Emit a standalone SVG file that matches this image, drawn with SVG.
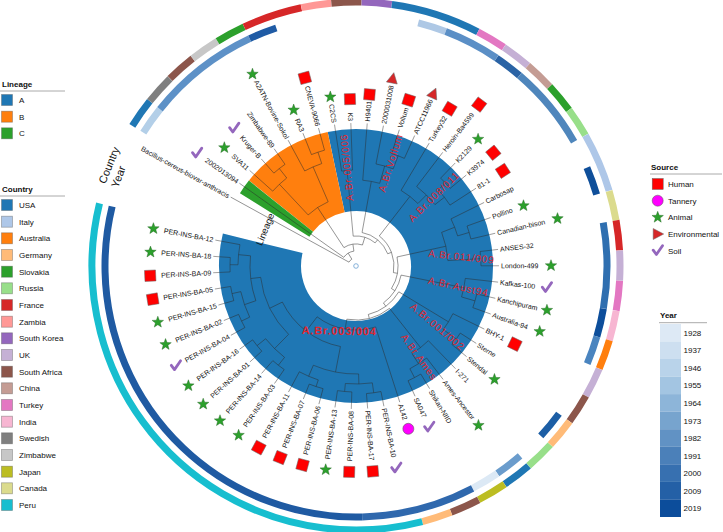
<svg xmlns="http://www.w3.org/2000/svg" xmlns:xlink="http://www.w3.org/1999/xlink" width="723" height="532" viewBox="0 0 723 532">
<style>
.tl{font-family:"Liberation Sans",Arial,sans-serif;font-size:7px;fill:#111}
.tk{stroke:#666;stroke-width:0.6}
.br path,.br circle{fill:none;stroke:#2b2b2b;stroke-opacity:0.65;stroke-width:0.7}
.cl{font-family:"Liberation Sans",Arial,sans-serif;font-size:10px;fill:#e3262e;letter-spacing:0.8px}
.lg{font-family:"Liberation Sans",Arial,sans-serif;font-size:8px;fill:#111}
.lgt{font-family:"Liberation Sans",Arial,sans-serif;font-size:8px;font-weight:bold;fill:#111}
.ax{font-family:"Liberation Sans",Arial,sans-serif;fill:#111}
.kb{stroke:#555;stroke-opacity:0.45;stroke-width:0.8}
.ring circle{fill:none;stroke-width:7}
</style>
<defs>
<path id="st" d="M0,-6L1.47,-2.02L5.71,-1.85L2.38,0.77L3.53,4.85L0,2.5L-3.53,4.85L-2.38,0.77L-5.71,-1.85L-1.47,-2.02Z" fill="#2ca02c" stroke="#1d5e1d" stroke-width="0.4"/>
<rect id="sq" x="-5.5" y="-5.5" width="11" height="11" fill="#ff0000" stroke="#666" stroke-width="0.5"/>
<path id="tr" d="M6,0L-4.5,-5.5L-4.5,5.5Z" fill="#d62728" stroke="#666" stroke-width="0.5"/>
<circle id="ci" r="5.5" fill="#ff00ff" stroke="#555" stroke-width="0.5"/>
<path id="ck" d="M-4.5,-0.5L-1.3,3.8L4.8,-5" fill="none" stroke="#9467bd" stroke-width="2.8" stroke-linecap="round" stroke-linejoin="round"/>
</defs>
<rect width="723" height="532" fill="#fff"/>

<!-- lineage fans -->
<g id="fans" transform="translate(356,266)" fill="none" stroke-width="82">
<circle r="96" pathLength="360" stroke="#1f77b4" stroke-dasharray="295.65 400" transform="rotate(258.075)"/>
<circle r="96" pathLength="360" stroke="#ff7f0e" stroke-dasharray="39.42 400" transform="rotate(218.655)"/>
<circle r="96" pathLength="360" stroke="#2ca02c" stroke-dasharray="6.57 400" transform="rotate(212.085)"/>
</g>

<!-- year ring -->
<g id="year-ring" class="ring" transform="translate(356,266)">
<circle r="251" pathLength="360" stroke="#b3cfe8" stroke-dasharray="6.57 400" transform="rotate(212.085)"/>
<circle r="251" pathLength="360" stroke="#5d91c7" stroke-dasharray="26.28 400" transform="rotate(218.655)"/>
<circle r="251" pathLength="360" stroke="#1f5ba5" stroke-dasharray="6.57 400" transform="rotate(244.935)"/>
<circle r="251" pathLength="360" stroke="#aec8e5" stroke-dasharray="6.57 400" transform="rotate(284.355)"/>
<circle r="251" pathLength="360" stroke="#5b8fc6" stroke-dasharray="13.14 400" transform="rotate(290.925)"/>
<circle r="251" pathLength="360" stroke="#2a63a5" stroke-dasharray="6.57 400" transform="rotate(304.065)"/>
<circle r="251" pathLength="360" stroke="#4f86bc" stroke-dasharray="19.71 400" transform="rotate(310.635)"/>
<circle r="251" pathLength="360" stroke="#0f4f9a" stroke-dasharray="6.57 400" transform="rotate(336.915)"/>
<circle r="251" pathLength="360" stroke="#2f6fb0" stroke-dasharray="19.71 400" transform="rotate(350.055)"/>
<circle r="251" pathLength="360" stroke="#0d4e9b" stroke-dasharray="6.57 400" transform="rotate(369.765)"/>
<circle r="251" pathLength="360" stroke="#4a84bf" stroke-dasharray="6.57 400" transform="rotate(376.335)"/>
<circle r="251" pathLength="360" stroke="#1c5ea5" stroke-dasharray="6.57 400" transform="rotate(396.045)"/>
<circle r="251" pathLength="360" stroke="#6a9ccc" stroke-dasharray="6.57 400" transform="rotate(409.185)"/>
<circle r="251" pathLength="360" stroke="#dce9f5" stroke-dasharray="6.57 400" transform="rotate(415.755)"/>
<circle r="251" pathLength="360" stroke="#2f68ad" stroke-dasharray="26.28 400" transform="rotate(422.325)"/>
<circle r="251" pathLength="360" stroke="#1f5aa2" stroke-dasharray="105.12 400" transform="rotate(448.605)"/>
</g>

<!-- country ring -->
<g id="country-ring" class="ring" transform="translate(356,266)">
<circle r="264" pathLength="360" stroke="#1f77b4" stroke-dasharray="6.57 400" transform="rotate(212.085)"/>
<circle r="264" pathLength="360" stroke="#7f7f7f" stroke-dasharray="6.57 400" transform="rotate(218.655)"/>
<circle r="264" pathLength="360" stroke="#8c564b" stroke-dasharray="6.57 400" transform="rotate(225.225)"/>
<circle r="264" pathLength="360" stroke="#c7c7c7" stroke-dasharray="6.57 400" transform="rotate(231.795)"/>
<circle r="264" pathLength="360" stroke="#2ca02c" stroke-dasharray="6.57 400" transform="rotate(238.365)"/>
<circle r="264" pathLength="360" stroke="#d62728" stroke-dasharray="13.14 400" transform="rotate(244.935)"/>
<circle r="264" pathLength="360" stroke="#ff9896" stroke-dasharray="6.57 400" transform="rotate(258.075)"/>
<circle r="264" pathLength="360" stroke="#8c564b" stroke-dasharray="6.57 400" transform="rotate(264.645)"/>
<circle r="264" pathLength="360" stroke="#9467bd" stroke-dasharray="6.57 400" transform="rotate(271.215)"/>
<circle r="264" pathLength="360" stroke="#1f77b4" stroke-dasharray="19.71 400" transform="rotate(277.785)"/>
<circle r="264" pathLength="360" stroke="#e377c2" stroke-dasharray="6.57 400" transform="rotate(297.495)"/>
<circle r="264" pathLength="360" stroke="#c5b0d5" stroke-dasharray="6.57 400" transform="rotate(304.065)"/>
<circle r="264" pathLength="360" stroke="#c49c94" stroke-dasharray="6.57 400" transform="rotate(310.635)"/>
<circle r="264" pathLength="360" stroke="#2ca02c" stroke-dasharray="6.57 400" transform="rotate(317.205)"/>
<circle r="264" pathLength="360" stroke="#98df8a" stroke-dasharray="6.57 400" transform="rotate(323.775)"/>
<circle r="264" pathLength="360" stroke="#aec7e8" stroke-dasharray="13.14 400" transform="rotate(330.345)"/>
<circle r="264" pathLength="360" stroke="#dbdb8d" stroke-dasharray="6.57 400" transform="rotate(343.485)"/>
<circle r="264" pathLength="360" stroke="#d62728" stroke-dasharray="6.57 400" transform="rotate(350.055)"/>
<circle r="264" pathLength="360" stroke="#c5b0d5" stroke-dasharray="6.57 400" transform="rotate(356.625)"/>
<circle r="264" pathLength="360" stroke="#e377c2" stroke-dasharray="6.57 400" transform="rotate(363.195)"/>
<circle r="264" pathLength="360" stroke="#f7b6d2" stroke-dasharray="6.57 400" transform="rotate(369.765)"/>
<circle r="264" pathLength="360" stroke="#ff7f0e" stroke-dasharray="6.57 400" transform="rotate(376.335)"/>
<circle r="264" pathLength="360" stroke="#c5b0d5" stroke-dasharray="6.57 400" transform="rotate(382.905)"/>
<circle r="264" pathLength="360" stroke="#8c564b" stroke-dasharray="6.57 400" transform="rotate(389.475)"/>
<circle r="264" pathLength="360" stroke="#ffbb78" stroke-dasharray="6.57 400" transform="rotate(396.045)"/>
<circle r="264" pathLength="360" stroke="#98df8a" stroke-dasharray="6.57 400" transform="rotate(402.615)"/>
<circle r="264" pathLength="360" stroke="#1f77b4" stroke-dasharray="6.57 400" transform="rotate(409.185)"/>
<circle r="264" pathLength="360" stroke="#bcbd22" stroke-dasharray="6.57 400" transform="rotate(415.755)"/>
<circle r="264" pathLength="360" stroke="#8c564b" stroke-dasharray="6.57 400" transform="rotate(422.325)"/>
<circle r="264" pathLength="360" stroke="#ffbb78" stroke-dasharray="6.57 400" transform="rotate(428.895)"/>
<circle r="264" pathLength="360" stroke="#17becf" stroke-dasharray="118.26 400" transform="rotate(435.465)"/>
</g>

<!-- branches -->
<g id="branches" class="br" transform="translate(356,266)">
<circle r="8" pathLength="360" stroke-dasharray="29.85 400" transform="rotate(208.8)"/>
<circle r="15" pathLength="360" stroke-dasharray="46.55 400" transform="rotate(215.37)"/>
<circle r="22" pathLength="360" stroke-dasharray="50.38 400" transform="rotate(236.73)"/>
<circle r="70" pathLength="360" stroke-dasharray="19.71 400" transform="rotate(226.87)"/>
<circle r="112" pathLength="360" stroke-dasharray="9.86 400" transform="rotate(221.94)"/>
<circle r="124" pathLength="360" stroke-dasharray="6.57 400" transform="rotate(228.51)"/>
<circle r="108" pathLength="360" stroke-dasharray="9.86 400" transform="rotate(241.65)"/>
<circle r="120" pathLength="360" stroke-dasharray="6.57 400" transform="rotate(248.22)"/>
<circle r="30" pathLength="360" stroke-dasharray="44.92 400" transform="rotate(264.65)"/>
<circle r="96" pathLength="360" stroke-dasharray="6.57 400" transform="rotate(261.36)"/>
<circle r="34" pathLength="360" stroke-dasharray="58.64 400" transform="rotate(280.25)"/>
<circle r="86" pathLength="360" stroke-dasharray="11.5 400" transform="rotate(274.5)"/>
<circle r="104" pathLength="360" stroke-dasharray="9.86 400" transform="rotate(281.07)"/>
<circle r="118" pathLength="360" stroke-dasharray="6.57 400" transform="rotate(287.64)"/>
<circle r="38" pathLength="360" stroke-dasharray="62.25 400" transform="rotate(307.76)"/>
<circle r="88" pathLength="360" stroke-dasharray="13.96 400" transform="rotate(300.78)"/>
<circle r="100" pathLength="360" stroke-dasharray="14.78 400" transform="rotate(307.35)"/>
<circle r="112" pathLength="360" stroke-dasharray="9.86 400" transform="rotate(317.2)"/>
<circle r="122" pathLength="360" stroke-dasharray="6.57 400" transform="rotate(313.92)"/>
<circle r="42" pathLength="360" stroke-dasharray="44.82 400" transform="rotate(347.6)"/>
<circle r="92" pathLength="360" stroke-dasharray="18.07 400" transform="rotate(338.56)"/>
<circle r="106" pathLength="360" stroke-dasharray="9.86 400" transform="rotate(333.63)"/>
<circle r="118" pathLength="360" stroke-dasharray="6.57 400" transform="rotate(340.2)"/>
<circle r="125" pathLength="360" stroke-dasharray="6.57 400" transform="rotate(353.34)"/>
<circle r="46" pathLength="360" stroke-dasharray="42.02 400" transform="rotate(371.41)"/>
<circle r="110" pathLength="360" stroke-dasharray="9.86 400" transform="rotate(366.48)"/>
<circle r="124" pathLength="360" stroke-dasharray="6.57 400" transform="rotate(373.05)"/>
<circle r="50" pathLength="360" stroke-dasharray="44.61 400" transform="rotate(391.12)"/>
<circle r="108" pathLength="360" stroke-dasharray="9.86 400" transform="rotate(386.19)"/>
<circle r="124" pathLength="360" stroke-dasharray="6.57 400" transform="rotate(392.76)"/>
<circle r="54" pathLength="360" stroke-dasharray="48.15 400" transform="rotate(411.65)"/>
<circle r="104" pathLength="360" stroke-dasharray="11.5 400" transform="rotate(405.9)"/>
<circle r="116" pathLength="360" stroke-dasharray="9.86 400" transform="rotate(412.47)"/>
<circle r="126" pathLength="360" stroke-dasharray="6.57 400" transform="rotate(419.04)"/>
<circle r="64" pathLength="360" stroke-dasharray="55.24 400" transform="rotate(432.18)"/>
<circle r="82" pathLength="360" stroke-dasharray="52.97 400" transform="rotate(460.93)"/>
<circle r="108" pathLength="360" stroke-dasharray="24.64 400" transform="rotate(448.61)"/>
<circle r="118" pathLength="360" stroke-dasharray="13.14 400" transform="rotate(442.04)"/>
<circle r="128" pathLength="360" stroke-dasharray="6.57 400" transform="rotate(438.75)"/>
<circle r="126" pathLength="360" stroke-dasharray="6.57 400" transform="rotate(451.89)"/>
<circle r="120" pathLength="360" stroke-dasharray="9.85 400" transform="rotate(468.32)"/>
<circle r="127" pathLength="360" stroke-dasharray="6.57 400" transform="rotate(465.03)"/>
<circle r="96" pathLength="360" stroke-dasharray="38.6 400" transform="rotate(494.6)"/>
<circle r="116" pathLength="360" stroke-dasharray="13.14 400" transform="rotate(488.03)"/>
<circle r="126" pathLength="360" stroke-dasharray="6.57 400" transform="rotate(484.74)"/>
<circle r="127" pathLength="360" stroke-dasharray="6.57 400" transform="rotate(497.88)"/>
<circle r="106" pathLength="360" stroke-dasharray="24.64 400" transform="rotate(520.88)"/>
<circle r="118" pathLength="360" stroke-dasharray="13.14 400" transform="rotate(514.31)"/>
<circle r="127" pathLength="360" stroke-dasharray="6.57 400" transform="rotate(511.02)"/>
<circle r="127" pathLength="360" stroke-dasharray="6.57 400" transform="rotate(524.16)"/>
<circle r="118" pathLength="360" stroke-dasharray="9.85 400" transform="rotate(540.59)"/>
<circle r="126" pathLength="360" stroke-dasharray="6.57 400" transform="rotate(537.3)"/>
<path d="M8 0H143" transform="rotate(208.8)"/>
<path d="M8 0H15" transform="rotate(238.65)"/>
<path d="M15 0H137" transform="rotate(215.37)"/>
<path d="M15 0H22" transform="rotate(261.92)"/>
<path d="M22 0H70" transform="rotate(236.73)"/>
<path d="M22 0H30" transform="rotate(287.11)"/>
<path d="M70 0H112" transform="rotate(226.87)"/>
<path d="M70 0H108" transform="rotate(246.58)"/>
<path d="M112 0H137" transform="rotate(221.94)"/>
<path d="M112 0H124" transform="rotate(231.8)"/>
<path d="M124 0H137" transform="rotate(228.51)"/>
<path d="M124 0H137" transform="rotate(235.08)"/>
<path d="M108 0H137" transform="rotate(241.65)"/>
<path d="M108 0H120" transform="rotate(251.51)"/>
<path d="M120 0H137" transform="rotate(248.22)"/>
<path d="M120 0H137" transform="rotate(254.79)"/>
<path d="M30 0H96" transform="rotate(264.65)"/>
<path d="M30 0H34" transform="rotate(309.57)"/>
<path d="M96 0H137" transform="rotate(261.36)"/>
<path d="M96 0H137" transform="rotate(267.93)"/>
<path d="M34 0H86" transform="rotate(280.25)"/>
<path d="M34 0H38" transform="rotate(338.89)"/>
<path d="M86 0H137" transform="rotate(274.5)"/>
<path d="M86 0H104" transform="rotate(286)"/>
<path d="M104 0H137" transform="rotate(281.07)"/>
<path d="M104 0H118" transform="rotate(290.93)"/>
<path d="M118 0H137" transform="rotate(287.64)"/>
<path d="M118 0H137" transform="rotate(294.21)"/>
<path d="M38 0H88" transform="rotate(307.76)"/>
<path d="M38 0H42" transform="rotate(370.01)"/>
<path d="M88 0H137" transform="rotate(300.78)"/>
<path d="M88 0H100" transform="rotate(314.74)"/>
<path d="M100 0H137" transform="rotate(307.35)"/>
<path d="M100 0H112" transform="rotate(322.13)"/>
<path d="M112 0H122" transform="rotate(317.2)"/>
<path d="M112 0H137" transform="rotate(327.06)"/>
<path d="M122 0H137" transform="rotate(313.92)"/>
<path d="M122 0H137" transform="rotate(320.49)"/>
<path d="M42 0H92" transform="rotate(347.6)"/>
<path d="M42 0H46" transform="rotate(392.42)"/>
<path d="M92 0H106" transform="rotate(338.56)"/>
<path d="M92 0H125" transform="rotate(356.63)"/>
<path d="M106 0H137" transform="rotate(333.63)"/>
<path d="M106 0H118" transform="rotate(343.49)"/>
<path d="M118 0H137" transform="rotate(340.2)"/>
<path d="M118 0H137" transform="rotate(346.77)"/>
<path d="M125 0H137" transform="rotate(353.34)"/>
<path d="M125 0H137" transform="rotate(359.91)"/>
<path d="M46 0H110" transform="rotate(371.41)"/>
<path d="M46 0H50" transform="rotate(413.43)"/>
<path d="M110 0H137" transform="rotate(366.48)"/>
<path d="M110 0H124" transform="rotate(376.34)"/>
<path d="M124 0H137" transform="rotate(373.05)"/>
<path d="M124 0H137" transform="rotate(379.62)"/>
<path d="M50 0H108" transform="rotate(391.12)"/>
<path d="M50 0H54" transform="rotate(435.73)"/>
<path d="M108 0H137" transform="rotate(386.19)"/>
<path d="M108 0H124" transform="rotate(396.05)"/>
<path d="M124 0H137" transform="rotate(392.76)"/>
<path d="M124 0H137" transform="rotate(399.33)"/>
<path d="M54 0H104" transform="rotate(411.65)"/>
<path d="M54 0H64" transform="rotate(459.8)"/>
<path d="M104 0H137" transform="rotate(405.9)"/>
<path d="M104 0H116" transform="rotate(417.4)"/>
<path d="M116 0H137" transform="rotate(412.47)"/>
<path d="M116 0H126" transform="rotate(422.33)"/>
<path d="M126 0H137" transform="rotate(419.04)"/>
<path d="M126 0H137" transform="rotate(425.61)"/>
<path d="M64 0H137" transform="rotate(432.18)"/>
<path d="M64 0H82" transform="rotate(487.42)"/>
<path d="M82 0H108" transform="rotate(460.93)"/>
<path d="M82 0H96" transform="rotate(513.9)"/>
<path d="M108 0H118" transform="rotate(448.61)"/>
<path d="M108 0H120" transform="rotate(473.25)"/>
<path d="M118 0H128" transform="rotate(442.04)"/>
<path d="M118 0H126" transform="rotate(455.18)"/>
<path d="M128 0H137" transform="rotate(438.75)"/>
<path d="M128 0H137" transform="rotate(445.32)"/>
<path d="M126 0H137" transform="rotate(451.89)"/>
<path d="M126 0H137" transform="rotate(458.46)"/>
<path d="M120 0H127" transform="rotate(468.32)"/>
<path d="M120 0H137" transform="rotate(478.17)"/>
<path d="M127 0H137" transform="rotate(465.03)"/>
<path d="M127 0H137" transform="rotate(471.6)"/>
<path d="M96 0H116" transform="rotate(494.6)"/>
<path d="M96 0H106" transform="rotate(533.2)"/>
<path d="M116 0H126" transform="rotate(488.03)"/>
<path d="M116 0H127" transform="rotate(501.17)"/>
<path d="M126 0H137" transform="rotate(484.74)"/>
<path d="M126 0H137" transform="rotate(491.31)"/>
<path d="M127 0H137" transform="rotate(497.88)"/>
<path d="M127 0H137" transform="rotate(504.45)"/>
<path d="M106 0H118" transform="rotate(520.88)"/>
<path d="M106 0H118" transform="rotate(545.52)"/>
<path d="M118 0H127" transform="rotate(514.31)"/>
<path d="M118 0H127" transform="rotate(527.45)"/>
<path d="M127 0H137" transform="rotate(511.02)"/>
<path d="M127 0H137" transform="rotate(517.59)"/>
<path d="M127 0H137" transform="rotate(524.16)"/>
<path d="M127 0H137" transform="rotate(530.73)"/>
<path d="M118 0H126" transform="rotate(540.59)"/>
<path d="M118 0H137" transform="rotate(550.44)"/>
<path d="M126 0H137" transform="rotate(537.3)"/>
<path d="M126 0H137" transform="rotate(543.87)"/>
</g>
<circle id="root" cx="356" cy="266" r="2.3" fill="#fff" stroke="#6aa0d0" stroke-width="0.8"/>

<!-- clade labels -->
<g id="clade-labels">
<text class="cl" transform="translate(350,201) rotate(264.6)" y="3.5">A.Br.005/006</text>
<text class="cl" transform="translate(381.7,191.7) rotate(287.3)" y="3.5">A.Br.Vollum</text>
<text class="cl" transform="translate(410,220) rotate(315.6)" y="3.5">A.Br.008/011</text>
<text class="cl" transform="translate(428.3,253.3) rotate(5.9)" y="3.5">A.Br.011/009</text>
<text class="cl" transform="translate(428.3,280) rotate(12.5)" y="3.5">A.Br.Aust94</text>
<text class="cl" transform="translate(411.7,305) rotate(40)" y="3.5">A.Br.001/002</text>
<text class="cl" transform="translate(403.3,335) rotate(54.3)" y="3.5">A.Br.Ames</text>
<text class="cl" transform="translate(301.7,330) rotate(1)" y="4" style="font-size:11px;font-weight:bold">A.Br.003/004</text>
</g>

<!-- ring / fan titles -->
<g id="axis-labels" transform="translate(356,266)">
<text class="ax" transform="rotate(202) translate(98,0) rotate(90)" y="3.3" text-anchor="middle" font-size="9.5">Lineage</text>
<text class="ax" transform="rotate(202.2) translate(267,0) rotate(90)" y="4" text-anchor="middle" font-size="11">Country</text>
<text class="ax" transform="rotate(200.6) translate(254,0) rotate(90)" y="4" text-anchor="middle" font-size="11">Year</text>
</g>

<!-- tips -->
<g id="tips" transform="translate(356,266)">
<g id="t0" transform="rotate(208.8)"><text class="tl" transform="rotate(180)" x="-145" y="2.5" text-anchor="end">Bacillus-cereus-biovar-anthracis</text></g>
<g id="t1" transform="rotate(215.37)"><line class="tk" x1="137" x2="143"/><text class="tl" transform="rotate(180)" x="-145" y="2.5" text-anchor="end">2002013094</text><use href="#ck" transform="translate(195,0) rotate(-215.37)"/></g>
<g id="t2" transform="rotate(221.94)"><line class="tk" x1="137" x2="143"/><text class="tl" transform="rotate(180)" x="-145" y="2.5" text-anchor="end">SVA11</text><use href="#st" transform="translate(177,0) rotate(-221.94)"/></g>
<g id="t3" transform="rotate(228.51)"><line class="tk" x1="137" x2="143"/><text class="tl" transform="rotate(180)" x="-145" y="2.5" text-anchor="end">Kruger-B</text><use href="#ck" transform="translate(184,0) rotate(-228.51)"/></g>
<g id="t4" transform="rotate(235.08)"><line class="tk" x1="137" x2="143"/><text class="tl" transform="rotate(180)" x="-145" y="2.5" text-anchor="end">Zimbabwe-89</text></g>
<g id="t5" transform="rotate(241.65)"><line class="tk" x1="137" x2="143"/><text class="tl" transform="rotate(180)" x="-145" y="2.5" text-anchor="end">A2ATN-Bovine-Sokol</text><use href="#st" transform="translate(218,0) rotate(-241.65)"/></g>
<g id="t6" transform="rotate(248.22)"><line class="tk" x1="137" x2="143"/><text class="tl" transform="rotate(180)" x="-145" y="2.5" text-anchor="end">RA3</text><use href="#st" transform="translate(168,0) rotate(-248.22)"/></g>
<g id="t7" transform="rotate(254.79)"><line class="tk" x1="137" x2="143"/><text class="tl" transform="rotate(180)" x="-145" y="2.5" text-anchor="end">CNEVA-9066</text><use href="#sq" x="195"/></g>
<g id="t8" transform="rotate(261.36)"><line class="tk" x1="137" x2="143"/><text class="tl" transform="rotate(180)" x="-145" y="2.5" text-anchor="end">C2CS</text><use href="#st" transform="translate(171,0) rotate(-261.36)"/></g>
<g id="t9" transform="rotate(267.93)"><line class="tk" x1="137" x2="143"/><text class="tl" transform="rotate(180)" x="-145" y="2.5" text-anchor="end">K3</text><use href="#sq" x="167"/></g>
<g id="t10" transform="rotate(274.5)"><line class="tk" x1="137" x2="143"/><text class="tl" x="145" y="2.5">H9401</text><use href="#sq" x="172"/></g>
<g id="t11" transform="rotate(281.07)"><line class="tk" x1="137" x2="143"/><text class="tl" x="145" y="2.5">2000031008</text><use href="#tr" x="191"/></g>
<g id="t12" transform="rotate(287.64)"><line class="tk" x1="137" x2="143"/><text class="tl" x="145" y="2.5">Vollum</text><use href="#sq" x="174"/></g>
<g id="t13" transform="rotate(294.21)"><line class="tk" x1="137" x2="143"/><text class="tl" x="145" y="2.5">ATCC11966</text><use href="#tr" x="189"/></g>
<g id="t14" transform="rotate(300.78)"><line class="tk" x1="137" x2="143"/><text class="tl" x="145" y="2.5">Turkey32</text><use href="#sq" x="183"/></g>
<g id="t15" transform="rotate(307.35)"><line class="tk" x1="137" x2="143"/><text class="tl" x="145" y="2.5">Heroin-Ba4599</text><use href="#sq" x="203"/></g>
<g id="t16" transform="rotate(313.92)"><line class="tk" x1="137" x2="143"/><text class="tl" x="145" y="2.5">K2129</text><use href="#st" transform="translate(176,0) rotate(-313.92)"/></g>
<g id="t17" transform="rotate(320.49)"><line class="tk" x1="137" x2="143"/><text class="tl" x="145" y="2.5">K3974</text><use href="#sq" x="178"/></g>
<g id="t18" transform="rotate(327.06)"><line class="tk" x1="137" x2="143"/><text class="tl" x="145" y="2.5">81-1</text><use href="#sq" x="175"/></g>
<g id="t19" transform="rotate(333.63)"><line class="tk" x1="137" x2="143"/><text class="tl" x="145" y="2.5">Carbosap</text></g>
<g id="t20" transform="rotate(340.2)"><line class="tk" x1="137" x2="143"/><text class="tl" x="145" y="2.5">Pollino</text><use href="#st" transform="translate(178,0) rotate(-340.2)"/></g>
<g id="t21" transform="rotate(346.77)"><line class="tk" x1="137" x2="143"/><text class="tl" x="145" y="2.5">Canadian-bison</text><use href="#st" transform="translate(207,0) rotate(-346.77)"/></g>
<g id="t22" transform="rotate(353.34)"><line class="tk" x1="137" x2="143"/><text class="tl" x="145" y="2.5">ANSES-32</text></g>
<g id="t23" transform="rotate(359.91)"><line class="tk" x1="137" x2="143"/><text class="tl" x="145" y="2.5">London-499</text><use href="#st" transform="translate(195,0) rotate(-359.91)"/></g>
<g id="t24" transform="rotate(366.48)"><line class="tk" x1="137" x2="143"/><text class="tl" x="145" y="2.5">Kafkas-100</text><use href="#ck" transform="translate(192,0) rotate(-366.48)"/></g>
<g id="t25" transform="rotate(373.05)"><line class="tk" x1="137" x2="143"/><text class="tl" x="145" y="2.5">Kanchipuram</text><use href="#st" transform="translate(196,0) rotate(-373.05)"/></g>
<g id="t26" transform="rotate(379.62)"><line class="tk" x1="137" x2="143"/><text class="tl" x="145" y="2.5">Australia-94</text><use href="#st" transform="translate(195,0) rotate(-379.62)"/></g>
<g id="t27" transform="rotate(386.19)"><line class="tk" x1="137" x2="143"/><text class="tl" x="145" y="2.5">BHY-1</text><use href="#sq" x="177"/></g>
<g id="t28" transform="rotate(392.76)"><line class="tk" x1="137" x2="143"/><text class="tl" x="145" y="2.5">Sterne</text></g>
<g id="t29" transform="rotate(399.33)"><line class="tk" x1="137" x2="143"/><text class="tl" x="145" y="2.5">Stendal</text><use href="#st" transform="translate(179,0) rotate(-399.33)"/></g>
<g id="t30" transform="rotate(405.9)"><line class="tk" x1="137" x2="143"/><text class="tl" x="145" y="2.5">I-271</text></g>
<g id="t31" transform="rotate(412.47)"><line class="tk" x1="137" x2="143"/><text class="tl" x="145" y="2.5">Ames-Ancestor</text><use href="#st" transform="translate(201,0) rotate(-412.47)"/></g>
<g id="t32" transform="rotate(419.04)"><line class="tk" x1="137" x2="143"/><text class="tl" x="145" y="2.5">Shikan-NIID</text></g>
<g id="t33" transform="rotate(425.61)"><line class="tk" x1="137" x2="143"/><text class="tl" x="145" y="2.5">SA047</text><use href="#ck" transform="translate(177,0) rotate(-425.61)"/></g>
<g id="t34" transform="rotate(432.18)"><line class="tk" x1="137" x2="143"/><text class="tl" x="145" y="2.5">A142</text><use href="#ci" x="171"/></g>
<g id="t35" transform="rotate(438.75)"><line class="tk" x1="137" x2="143"/><text class="tl" x="145" y="2.5">PER-INS-BA-10</text><use href="#ck" transform="translate(206,0) rotate(-438.75)"/></g>
<g id="t36" transform="rotate(445.32)"><line class="tk" x1="137" x2="143"/><text class="tl" x="145" y="2.5">PER-INS-BA-17</text><use href="#sq" x="206"/></g>
<g id="t37" transform="rotate(451.89)"><line class="tk" x1="137" x2="143"/><text class="tl" transform="rotate(180)" x="-145" y="2.5" text-anchor="end">PER-INS-BA-08</text><use href="#sq" x="206"/></g>
<g id="t38" transform="rotate(458.46)"><line class="tk" x1="137" x2="143"/><text class="tl" transform="rotate(180)" x="-145" y="2.5" text-anchor="end">PER-INS-BA-13</text><use href="#st" transform="translate(206,0) rotate(-458.46)"/></g>
<g id="t39" transform="rotate(465.03)"><line class="tk" x1="137" x2="143"/><text class="tl" transform="rotate(180)" x="-145" y="2.5" text-anchor="end">PER-INS-BA-06</text><use href="#sq" x="206"/></g>
<g id="t40" transform="rotate(471.6)"><line class="tk" x1="137" x2="143"/><text class="tl" transform="rotate(180)" x="-145" y="2.5" text-anchor="end">PER-INS-BA-07</text><use href="#sq" x="206"/></g>
<g id="t41" transform="rotate(478.17)"><line class="tk" x1="137" x2="143"/><text class="tl" transform="rotate(180)" x="-145" y="2.5" text-anchor="end">PER-INS-BA-11</text><use href="#sq" x="206"/></g>
<g id="t42" transform="rotate(484.74)"><line class="tk" x1="137" x2="143"/><text class="tl" transform="rotate(180)" x="-145" y="2.5" text-anchor="end">PER-INS-BA-03</text><use href="#st" transform="translate(206,0) rotate(-484.74)"/></g>
<g id="t43" transform="rotate(491.31)"><line class="tk" x1="137" x2="143"/><text class="tl" transform="rotate(180)" x="-145" y="2.5" text-anchor="end">PER-INS-BA-14</text><use href="#st" transform="translate(206,0) rotate(-491.31)"/></g>
<g id="t44" transform="rotate(497.88)"><line class="tk" x1="137" x2="143"/><text class="tl" transform="rotate(180)" x="-145" y="2.5" text-anchor="end">PER-INS-BA-01</text><use href="#st" transform="translate(206,0) rotate(-497.88)"/></g>
<g id="t45" transform="rotate(504.45)"><line class="tk" x1="137" x2="143"/><text class="tl" transform="rotate(180)" x="-145" y="2.5" text-anchor="end">PER-INS-BA-16</text><use href="#st" transform="translate(206,0) rotate(-504.45)"/></g>
<g id="t46" transform="rotate(511.02)"><line class="tk" x1="137" x2="143"/><text class="tl" transform="rotate(180)" x="-145" y="2.5" text-anchor="end">PER-INS-BA-04</text><use href="#ck" transform="translate(206,0) rotate(-511.02)"/></g>
<g id="t47" transform="rotate(517.59)"><line class="tk" x1="137" x2="143"/><text class="tl" transform="rotate(180)" x="-145" y="2.5" text-anchor="end">PER-INS-BA-02</text><use href="#st" transform="translate(206,0) rotate(-517.59)"/></g>
<g id="t48" transform="rotate(524.16)"><line class="tk" x1="137" x2="143"/><text class="tl" transform="rotate(180)" x="-145" y="2.5" text-anchor="end">PER-INS-BA-15</text><use href="#st" transform="translate(206,0) rotate(-524.16)"/></g>
<g id="t49" transform="rotate(530.73)"><line class="tk" x1="137" x2="143"/><text class="tl" transform="rotate(180)" x="-145" y="2.5" text-anchor="end">PER-INS-BA-05</text><use href="#sq" x="206"/></g>
<g id="t50" transform="rotate(537.3)"><line class="tk" x1="137" x2="143"/><text class="tl" transform="rotate(180)" x="-145" y="2.5" text-anchor="end">PER-INS-BA-09</text><use href="#sq" x="206"/></g>
<g id="t51" transform="rotate(543.87)"><line class="tk" x1="137" x2="143"/><text class="tl" transform="rotate(180)" x="-145" y="2.5" text-anchor="end">PER-INS-BA-18</text><use href="#st" transform="translate(206,0) rotate(-543.87)"/></g>
<g id="t52" transform="rotate(550.44)"><line class="tk" x1="137" x2="143"/><text class="tl" transform="rotate(180)" x="-145" y="2.5" text-anchor="end">PER-INS-BA-12</text><use href="#st" transform="translate(206,0) rotate(-550.44)"/></g>
</g>

<!-- Lineage legend -->
<g id="legend-lineage">
<text class="lgt" x="2" y="87">Lineage</text>
<line x1="0" y1="91" x2="65" y2="91" stroke="#aaa" stroke-width="1"/>
<rect class="kb" x="1.5" y="94.5" width="11" height="11" fill="#1f77b4"/><text class="lg" x="19" y="103">A</text>
<rect class="kb" x="1.5" y="111.2" width="11" height="11" fill="#ff7f0e"/><text class="lg" x="19" y="119.7">B</text>
<rect class="kb" x="1.5" y="127.8" width="11" height="11" fill="#2ca02c"/><text class="lg" x="19" y="136.3">C</text>
</g>

<!-- Country legend -->
<g id="legend-country">
<text class="lgt" x="2" y="192">Country</text>
<line x1="0" y1="196" x2="65" y2="196" stroke="#aaa" stroke-width="1"/>
<rect class="kb" x="1.5" y="199.5" width="11" height="11" fill="#1f77b4"/><text class="lg" x="19" y="208">USA</text>
<rect class="kb" x="1.5" y="216.2" width="11" height="11" fill="#aec7e8"/><text class="lg" x="19" y="224.7">Italy</text>
<rect class="kb" x="1.5" y="232.8" width="11" height="11" fill="#ff7f0e"/><text class="lg" x="19" y="241.3">Australia</text>
<rect class="kb" x="1.5" y="249.5" width="11" height="11" fill="#ffbb78"/><text class="lg" x="19" y="258">Germany</text>
<rect class="kb" x="1.5" y="266.2" width="11" height="11" fill="#2ca02c"/><text class="lg" x="19" y="274.7">Slovakia</text>
<rect class="kb" x="1.5" y="282.8" width="11" height="11" fill="#98df8a"/><text class="lg" x="19" y="291.3">Russia</text>
<rect class="kb" x="1.5" y="299.5" width="11" height="11" fill="#d62728"/><text class="lg" x="19" y="308">France</text>
<rect class="kb" x="1.5" y="316.2" width="11" height="11" fill="#ff9896"/><text class="lg" x="19" y="324.7">Zambia</text>
<rect class="kb" x="1.5" y="332.8" width="11" height="11" fill="#9467bd"/><text class="lg" x="19" y="341.3">South Korea</text>
<rect class="kb" x="1.5" y="349.5" width="11" height="11" fill="#c5b0d5"/><text class="lg" x="19" y="358">UK</text>
<rect class="kb" x="1.5" y="366.2" width="11" height="11" fill="#8c564b"/><text class="lg" x="19" y="374.7">South Africa</text>
<rect class="kb" x="1.5" y="382.8" width="11" height="11" fill="#c49c94"/><text class="lg" x="19" y="391.3">China</text>
<rect class="kb" x="1.5" y="399.5" width="11" height="11" fill="#e377c2"/><text class="lg" x="19" y="408">Turkey</text>
<rect class="kb" x="1.5" y="416.2" width="11" height="11" fill="#f7b6d2"/><text class="lg" x="19" y="424.7">India</text>
<rect class="kb" x="1.5" y="432.8" width="11" height="11" fill="#7f7f7f"/><text class="lg" x="19" y="441.3">Swedish</text>
<rect class="kb" x="1.5" y="449.5" width="11" height="11" fill="#c7c7c7"/><text class="lg" x="19" y="458">Zimbabwe</text>
<rect class="kb" x="1.5" y="466.2" width="11" height="11" fill="#bcbd22"/><text class="lg" x="19" y="474.7">Japan</text>
<rect class="kb" x="1.5" y="482.8" width="11" height="11" fill="#dbdb8d"/><text class="lg" x="19" y="491.3">Canada</text>
<rect class="kb" x="1.5" y="499.5" width="11" height="11" fill="#17becf"/><text class="lg" x="19" y="508">Peru</text>
</g>

<!-- Source legend -->
<g id="legend-source">
<text class="lgt" x="651" y="170">Source</text>
<line x1="650" y1="174" x2="722" y2="174" stroke="#aaa" stroke-width="1"/>
<use href="#sq" x="657.7" y="184"/><text class="lg" x="668" y="187">Human</text>
<use href="#ci" x="657.7" y="200.7"/><text class="lg" x="668" y="203.7">Tannery</text>
<use href="#st" x="657.7" y="217.3"/><text class="lg" x="668" y="220.3">Animal</text>
<use href="#tr" x="657.7" y="234"/><text class="lg" x="668" y="237">Environmental</text>
<use href="#ck" x="657.7" y="250.7"/><text class="lg" x="668" y="253.7">Soil</text>
</g>

<!-- Year legend -->
<g id="legend-year">
<text class="lgt" x="660" y="318">Year</text>
<line x1="659" y1="322.7" x2="707" y2="322.7" stroke="#aaa" stroke-width="1"/>
<rect x="660" y="324" width="21" height="17.6" fill="#dde9f5"/>
<rect x="660" y="341.5" width="21" height="17.6" fill="#cddff0"/>
<rect x="660" y="359" width="21" height="17.6" fill="#b9d3ea"/>
<rect x="660" y="376.6" width="21" height="17.6" fill="#a3c5e2"/>
<rect x="660" y="394.1" width="21" height="17.6" fill="#8db5d9"/>
<rect x="660" y="411.7" width="21" height="17.6" fill="#77a4ce"/>
<rect x="660" y="429.2" width="21" height="17.6" fill="#6192c4"/>
<rect x="660" y="446.8" width="21" height="17.6" fill="#4b80b9"/>
<rect x="660" y="464.3" width="21" height="17.6" fill="#3770b0"/>
<rect x="660" y="481.9" width="21" height="17.6" fill="#2460a6"/>
<rect x="660" y="499.4" width="21" height="17.6" fill="#0c4d9b"/>
<text class="lg" x="683.5" y="335.8">1928</text>
<text class="lg" x="683.5" y="353.3">1937</text>
<text class="lg" x="683.5" y="370.9">1946</text>
<text class="lg" x="683.5" y="388.4">1955</text>
<text class="lg" x="683.5" y="406">1964</text>
<text class="lg" x="683.5" y="423.5">1973</text>
<text class="lg" x="683.5" y="441.1">1982</text>
<text class="lg" x="683.5" y="458.6">1991</text>
<text class="lg" x="683.5" y="476.2">2000</text>
<text class="lg" x="683.5" y="493.7">2009</text>
<text class="lg" x="683.5" y="511.3">2019</text>
</g>
</svg>
